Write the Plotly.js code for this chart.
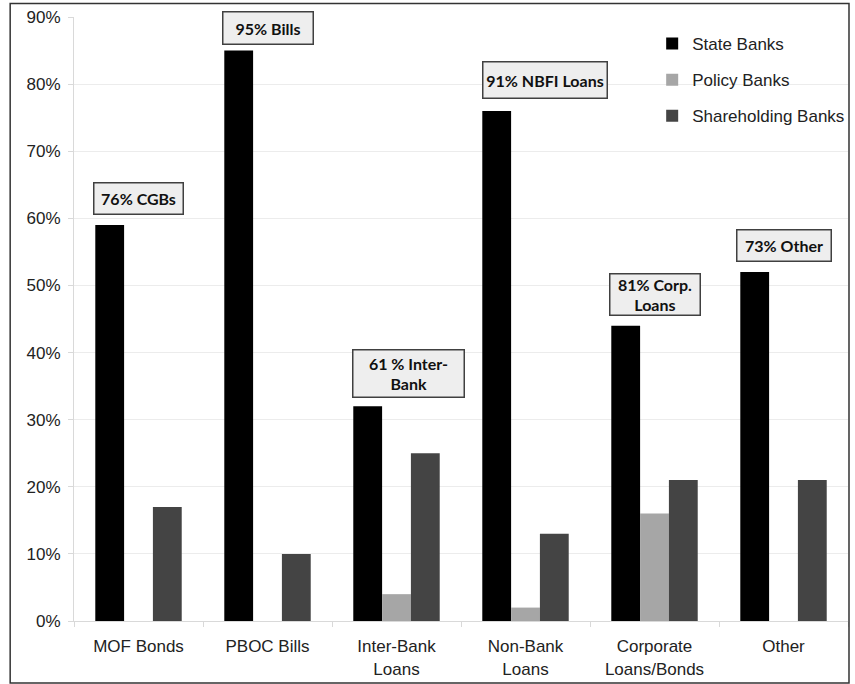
<!DOCTYPE html>
<html>
<head>
<meta charset="utf-8">
<script src="https://cdn.plot.ly/plotly-3.0.1.min.js"></script>
<style>
html,body{margin:0;padding:0;background:#fff;}
#chart{width:855px;height:684px;}
</style>
</head>
<body>
<div id="chart"></div>
<script>
// ---- data ----
const categories = ["MOF Bonds", "PBOC Bills", "Inter-Bank<br>Loans", "Non-Bank<br>Loans", "Corporate<br>Loans/Bonds", "Other"];
const seriesNames = ["State Banks", "Policy Banks", "Shareholding Banks"];
const stateBanks = [59, 85, 32, 76, 44, 52];
const policyBanks = [0, 0, 4, 2, 16, 0];
const shareholdingBanks = [17, 10, 25, 13, 21, 21];
const calloutTexts = ["76% CGBs", "95% Bills", "61 % Inter-<br>Bank", "91% NBFI Loans", "81% Corp.<br>Loans", "73% Other"];
const yTickValues = [0, 10, 20, 30, 40, 50, 60, 70, 80, 90];

// ---- styling ----
const colors = ["#000000", "#a6a6a6", "#444444"];
const seriesValues = [stateBanks, policyBanks, shareholdingBanks];

const traces = seriesNames.map((name, i) => ({
  type: "bar",
  name: name,
  x: categories,
  y: seriesValues[i],
  legendgroup: "g" + i,
  marker: {color: colors[i], line: {width: 0}},
  hoverinfo: "skip"
}));

// callout box placement (style: y centre in axis units, box size, pixel shift, vertical text alignment)
const calloutStyle = [
  {y: 63.0, w: 88, h: 30, dx: 0, va: "middle"},
  {y: 88.4, w: 89, h: 31, dx: 0, va: "middle"},
  {y: 36.9, w: 110, h: 46, dx: 12, va: "middle"},
  {y: 80.6, w: 123, h: 35, dx: 19, va: "middle"},
  {y: 48.7, w: 89, h: 40, dx: 0, va: "top"},
  {y: 55.9, w: 93, h: 30, dx: 0, va: "middle"}
];

const annotations = calloutTexts.map((t, i) => ({
  xref: "x", yref: "y",
  x: categories[i], y: calloutStyle[i].y,
  xshift: calloutStyle[i].dx,
  text: "<b>" + t + "</b>",
  showarrow: false,
  xanchor: "center", yanchor: "middle",
  width: calloutStyle[i].w, height: calloutStyle[i].h,
  valign: calloutStyle[i].va,
  bgcolor: "#eeeeee",
  bordercolor: "#404040",
  borderwidth: 1.5,
  borderpad: 0,
  font: {family: "Lato, 'Open Sans', sans-serif", size: 16, color: "#111"}
}));

const layout = {
  width: 855, height: 684,
  margin: {l: 74, r: 5, t: 17, b: 63},
  paper_bgcolor: "#ffffff",
  plot_bgcolor: "#ffffff",
  font: {family: "'Liberation Sans', Arial, sans-serif", size: 17, color: "#222"},
  barmode: "group",
  bargap: 0.33,
  bargroupgap: 0,
  showlegend: true,
  legend: {
    x: 0.747, y: 0.985, xanchor: "left", yanchor: "top",
    bgcolor: "rgba(0,0,0,0)", borderwidth: 0,
    tracegroupgap: 11,
    font: {family: "'Liberation Sans', Arial, sans-serif", size: 17, color: "#222"}
  },
  xaxis: {
    type: "category",
    showgrid: false,
    showline: true, linecolor: "#d9d9d9", linewidth: 1,
    ticks: "outside", tickson: "boundaries", ticklen: 5, tickcolor: "#d9d9d9",
    ticklabelstandoff: 10,
    zeroline: false,
    fixedrange: true
  },
  yaxis: {
    range: [0, 90],
    tickvals: yTickValues,
    ticktext: yTickValues.map(v => v + "%"),
    showgrid: true, gridcolor: "#ececec", gridwidth: 1,
    showline: true, linecolor: "#d9d9d9", linewidth: 1,
    ticks: "outside", ticklen: 5, tickcolor: "#d9d9d9",
    ticklabelstandoff: 4,
    zeroline: false,
    fixedrange: true
  },
  annotations: annotations,
  shapes: [{
    type: "rect", xref: "paper", yref: "paper",
    x0: (10 - 74) / 776, x1: (851 - 74) / 776,
    y0: (621 - 683) / 604, y1: (621 - 3.5) / 604,
    line: {color: "#333333", width: 1.5},
    fillcolor: "rgba(0,0,0,0)",
    layer: "above"
  }]
};

Plotly.newPlot("chart", traces, layout, {displayModeBar: false, staticPlot: true});
</script>
</body>
</html>
